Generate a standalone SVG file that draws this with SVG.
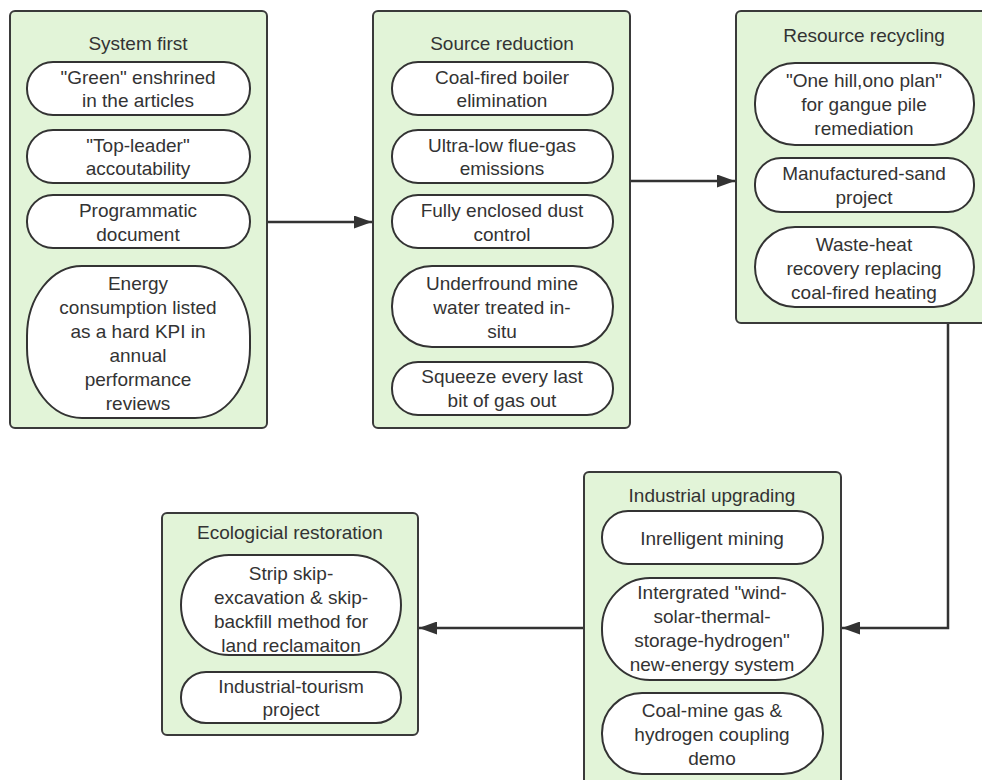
<svg xmlns="http://www.w3.org/2000/svg" width="982" height="780" viewBox="0 0 982 780">
  <defs>
    <marker id="arr" viewBox="0 0 18 13" refX="18" refY="6.5" markerWidth="18" markerHeight="13" markerUnits="userSpaceOnUse" orient="auto">
      <path d="M0,0 L18,6.5 L0,13 Z" fill="#333333"/>
    </marker>
    <style>
      .box { fill: #e2f4d8; stroke: #3a3a3a; stroke-width: 2; }
      .pill { fill: #ffffff; stroke: #333333; stroke-width: 2; }
      .t { font-family: "Liberation Sans", Arial, sans-serif; font-size: 19px; fill: #333333; text-anchor: middle; dominant-baseline: central; }
      .edge { fill: none; stroke: #333333; stroke-width: 2.5; marker-end: url(#arr); }
    </style>
  </defs>
  <rect width="982" height="780" fill="#ffffff"/>

  <g id="connectors">
    <path class="edge" d="M267,222 L372,222"/>
    <path class="edge" d="M630,181 L735,181"/>
    <path class="edge" d="M948,323 L948,628 L842,628"/>
    <path class="edge" d="M584,628 L419,628"/>
  </g>

  <g id="system-first">
    <rect class="box" x="10" y="11" width="257" height="417" rx="5"/>
    <text class="t" x="138" y="43">System first</text>
    <rect class="pill" x="27" y="62" width="223" height="53" rx="26"/>
    <text class="t" x="138" y="77">"Green" enshrined</text>
    <text class="t" x="138" y="100">in the articles</text>
    <rect class="pill" x="27" y="130" width="223" height="53" rx="26"/>
    <text class="t" x="138" y="145">"Top-leader"</text>
    <text class="t" x="138" y="168">accoutability</text>
    <rect class="pill" x="27" y="195" width="223" height="53" rx="26"/>
    <text class="t" x="138" y="210">Programmatic</text>
    <text class="t" x="138" y="234">document</text>
    <rect class="pill" x="27" y="266" width="223" height="152" rx="55" ry="70"/>
    <text class="t" x="138" y="283">Energy</text>
    <text class="t" x="138" y="307">consumption listed</text>
    <text class="t" x="138" y="331">as a hard KPI in</text>
    <text class="t" x="138" y="355">annual</text>
    <text class="t" x="138" y="379">performance</text>
    <text class="t" x="138" y="403">reviews</text>
  </g>

  <g id="source-reduction">
    <rect class="box" x="373" y="11" width="257" height="417" rx="5"/>
    <text class="t" x="502" y="43">Source reduction</text>
    <rect class="pill" x="392" y="62" width="221" height="53" rx="26"/>
    <text class="t" x="502" y="77">Coal-fired boiler</text>
    <text class="t" x="502" y="100">elimination</text>
    <rect class="pill" x="392" y="130" width="221" height="53" rx="26"/>
    <text class="t" x="502" y="145">Ultra-low flue-gas</text>
    <text class="t" x="502" y="168">emissions</text>
    <rect class="pill" x="392" y="195" width="221" height="53" rx="26"/>
    <text class="t" x="502" y="210">Fully enclosed dust</text>
    <text class="t" x="502" y="234">control</text>
    <rect class="pill" x="392" y="266" width="221" height="81" rx="40"/>
    <text class="t" x="502" y="283">Underfround mine</text>
    <text class="t" x="502" y="307">water treated in-</text>
    <text class="t" x="502" y="331">situ</text>
    <rect class="pill" x="392" y="362" width="221" height="53" rx="26"/>
    <text class="t" x="502" y="376">Squeeze every last</text>
    <text class="t" x="502" y="400">bit of gas out</text>
  </g>

  <g id="resource-recycling">
    <rect class="box" x="736" y="11" width="256" height="312" rx="5"/>
    <text class="t" x="864" y="35">Resource recycling</text>
    <rect class="pill" x="755" y="63" width="219" height="82" rx="40"/>
    <text class="t" x="864" y="80">"One hill,ono plan"</text>
    <text class="t" x="864" y="104">for gangue pile</text>
    <text class="t" x="864" y="128">remediation</text>
    <rect class="pill" x="755" y="158" width="219" height="54" rx="26"/>
    <text class="t" x="864" y="173">Manufactured-sand</text>
    <text class="t" x="864" y="197">project</text>
    <rect class="pill" x="755" y="227" width="219" height="80" rx="40"/>
    <text class="t" x="864" y="244">Waste-heat</text>
    <text class="t" x="864" y="268">recovery replacing</text>
    <text class="t" x="864" y="292">coal-fired heating</text>
  </g>

  <g id="industrial-upgrading">
    <rect class="box" x="584" y="472" width="257" height="320" rx="5"/>
    <text class="t" x="712" y="495">Industrial upgrading</text>
    <rect class="pill" x="602" y="511" width="221" height="53" rx="26"/>
    <text class="t" x="712" y="538">Inrelligent mining</text>
    <rect class="pill" x="602" y="578" width="221" height="102" rx="48" ry="50"/>
    <text class="t" x="712" y="592">Intergrated "wind-</text>
    <text class="t" x="712" y="616">solar-thermal-</text>
    <text class="t" x="712" y="640">storage-hydrogen"</text>
    <text class="t" x="712" y="664">new-energy system</text>
    <rect class="pill" x="602" y="693" width="221" height="81" rx="40"/>
    <text class="t" x="712" y="710">Coal-mine gas &amp;</text>
    <text class="t" x="712" y="734">hydrogen coupling</text>
    <text class="t" x="712" y="758">demo</text>
  </g>

  <g id="ecological-restoration">
    <rect class="box" x="162" y="513" width="256" height="222" rx="5"/>
    <text class="t" x="290" y="532">Ecologicial restoration</text>
    <rect class="pill" x="181" y="555" width="220" height="100" rx="48" ry="50"/>
    <text class="t" x="291" y="573">Strip skip-</text>
    <text class="t" x="291" y="597">excavation &amp; skip-</text>
    <text class="t" x="291" y="621">backfill method for</text>
    <text class="t" x="291" y="645">land reclamaiton</text>
    <rect class="pill" x="181" y="672" width="220" height="51" rx="25"/>
    <text class="t" x="291" y="686">Industrial-tourism</text>
    <text class="t" x="291" y="709">project</text>
  </g>
</svg>
